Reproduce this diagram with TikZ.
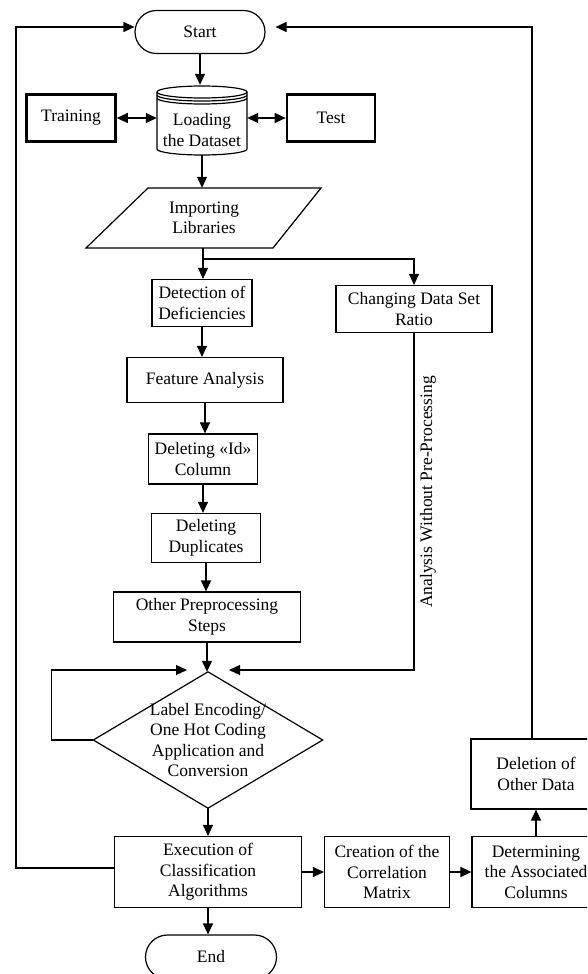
\documentclass[tikz,border=0pt]{standalone}
\usepackage{fontspec}
\setmainfont{Liberation Serif}
\usetikzlibrary{arrows.meta,shapes.misc,calc}

\begin{document}
\begin{tikzpicture}[x=1pt,y=-1pt,
  every node/.style={font=\fontsize{17.5}{20.5}\selectfont, align=center, inner sep=0pt},
  ln/.style={line width=1.2pt},
  proc/.style={draw, ln, rectangle},
  bold/.style={draw, line width=2.6pt, rectangle},
  term/.style={draw, ln, rounded rectangle, rounded rectangle arc length=180},
  arr/.style={ln, -{Triangle[length=11pt,width=10pt]}},
  dbl/.style={ln, {Triangle[length=11pt,width=10pt]}-{Triangle[length=11pt,width=10pt]}}
]
\useasboundingbox (0,0) rectangle (587,974);
\clip (0,0) rectangle (587,974);

% terminals
\node[term, minimum width=130, minimum height=43] (start) at (200,32) {Start};
\node[term, minimum width=131, minimum height=44] (stop) at (211,957) {End};

% dataset cylinder
\node[minimum width=90, minimum height=70] (load) at (202,120) {};
\node (loadtxt) at (202,130) {Loading\\the Dataset};
\draw[ln] (157,92) -- (157,149) arc[start angle=180,end angle=360,x radius=45pt,y radius=6pt] -- (247,92);
\draw[ln] (202,92) ellipse[x radius=45pt,y radius=6pt];
\draw[ln] (157,95) arc[start angle=180,end angle=360,x radius=45pt,y radius=6pt];
\draw[ln] (157,98) arc[start angle=180,end angle=360,x radius=45pt,y radius=6pt];

\node[bold, minimum width=89, minimum height=47] (train) at (71,118) {Training};
\node[bold, minimum width=88, minimum height=47] (test) at (331,118) {Test};

% input / output parallelogram
\node[minimum width=190, minimum height=60] (lib) at (204,218) {Importing\\Libraries};
\draw[ln] (148,188) -- (321,188) -- (273,248) -- (86,248) -- cycle;

% processing steps
\node[proc, minimum width=100, minimum height=47] (det) at (202,303) {Detection of\\Deficiencies};
\node[proc, minimum width=156, minimum height=47] (chg) at (414,309) {Changing Data Set\\Ratio};
\node[proc, minimum width=156, minimum height=45] (feat) at (205,380) {Feature Analysis};
\node[proc, minimum width=109, minimum height=50] (delid) at (203,459) {Deleting «Id»\\Column};
\node[proc, minimum width=109, minimum height=49] (deldup) at (206,538) {Deleting\\Duplicates};
\node[proc, minimum width=187, minimum height=50] (other) at (207,617) {Other Preprocessing\\Steps};

% decision
\node[minimum width=229, minimum height=136] (dia) at (208,740) {Label Encoding/\\One Hot Coding\\Application and\\Conversion};
\draw[ln] (dia.north) -- (dia.east) -- (dia.south) -- (dia.west) -- cycle;

\node[proc, minimum width=187, minimum height=71] (exec) at (208,872) {Execution of\\Classification\\Algorithms};
\node[proc, minimum width=125, minimum height=71] (corr) at (387,872) {Creation of the\\Correlation\\Matrix};
\node[proc, minimum width=128, minimum height=71] (assoc) at (536,872) {Determining\\the Associated\\Columns};
\node[proc, minimum width=130, minimum height=70] (delo) at (536,774) {Deletion of\\Other Data};

\node[rotate=90] (lbl) at (428,492) {Analysis Without Pre-Processing};

% connector end points
\coordinate (br) at (203,259);
\coordinate (sL) at ($(start.west)+(0,-5)$);
\coordinate (sR) at ($(start.east)+(10,-5)$);
\coordinate (jL) at (187,670);
\coordinate (jR) at (229,670);
\coordinate (dTop) at ($(delo.north)+(-4,0)$);
\coordinate (eL) at ($(exec.west)+(0,-4)$);

% connectors
\draw[arr] (start.south) -- (start.south |- load.north);
\draw[dbl] (train.east) -- (train.east -| load.west);
\draw[dbl] (load.east |- test.west) -- (test.west);
\draw[arr] (load.south) -- (load.south |- lib.north);
\draw[ln] (lib.south -| br) -- (br);
\draw[arr] (br) -- (br |- det.north);
\draw[arr] (br) -| (chg.north);
\draw[arr] (det.south) -- (det.south |- feat.north);
\draw[arr] (feat.south) -- (feat.south |- delid.north);
\draw[arr] (delid.south) -- (delid.south |- deldup.north);
\draw[arr] (deldup.south) -- (deldup.south |- other.north);
\draw[arr] (other.south) -- (other.south |- dia.north);
\draw[arr] (chg.south) |- (jR);
\draw[arr] (dia.west) -- ++(-42,0) |- (jL);
\draw[arr] (dia.south) -- (exec.north);
\draw[arr] (exec.south) -- (exec.south |- stop.north);
\draw[arr] (exec.east) -- (corr.west);
\draw[arr] (corr.east) -- (assoc.west);
\draw[arr] (assoc.north) -- (delo.south);
\draw[arr] (eL) -| (16,500) |- (sL);
\draw[arr] (dTop) |- (sR);
\end{tikzpicture}
\end{document}
